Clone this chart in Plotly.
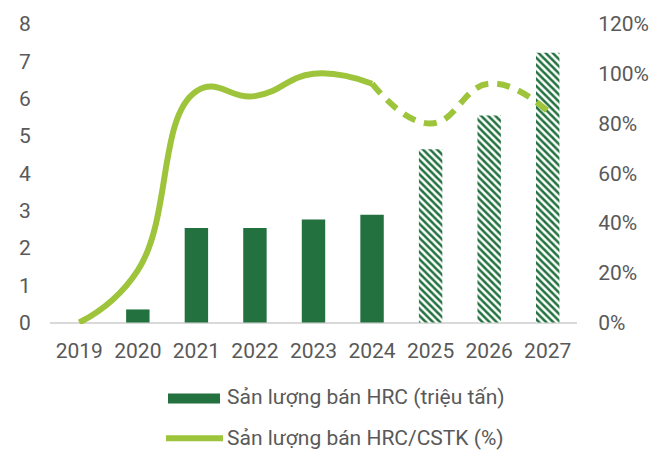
import plotly.graph_objects as go

# Annual HRC sales volume and sales/capacity ratio (2025-2027 are forecasts)
years = ["2019", "2020", "2021", "2022", "2023", "2024", "2025", "2026", "2027"]
sales_mt = [0.0, 0.35, 2.53, 2.53, 2.76, 2.89, 4.64, 5.55, 7.23]
sales_ratio = [0.0, 0.21, 0.93, 0.91, 1.00, 0.96, 0.80, 0.96, 0.85]
forecast = [False, False, False, False, False, False, True, True, True]

bar_name = "Sản lượng bán HRC (triệu tấn)"
line_name = "Sản lượng bán HRC/CSTK (%)"

DARK_GREEN = "#22713F"
LIGHT_GREEN = "#9DC43B"
TEXT_GRAY = "#595959"
FONT = "Roboto"
FS = 21

# actual years drawn solid, forecast years hatched
bar_shapes = ["\\" if f else "" for f in forecast]

# split the ratio line: solid through the last actual year, dashed after it
last_actual = max(i for i, f in enumerate(forecast) if not f)
solid_x = years[: last_actual + 1]
solid_y = sales_ratio[: last_actual + 1]
dash_x = years[last_actual:]
dash_y = sales_ratio[last_actual:]

fig = go.Figure()

fig.add_trace(go.Bar(
    x=years, y=sales_mt, name=bar_name,
    marker=dict(
        color=DARK_GREEN,
        line=dict(width=0),
        pattern=dict(shape=bar_shapes, fillmode="replace",
                     fgcolor=DARK_GREEN, bgcolor="white",
                     size=5, solidity=0.5),
    ),
    showlegend=False,
))

fig.add_trace(go.Scatter(
    x=solid_x, y=solid_y, yaxis="y2", mode="lines", name=line_name,
    line=dict(color=LIGHT_GREEN, width=6, shape="spline", smoothing=1.3),
    showlegend=False,
))
fig.add_trace(go.Scatter(
    x=dash_x, y=dash_y, yaxis="y2", mode="lines", name=line_name,
    line=dict(color=LIGHT_GREEN, width=6, shape="spline", smoothing=1.3,
              dash="13px,9px"),
    showlegend=False,
))

# legend drawn below the plot: swatch + label per series
legend_shapes = [
    dict(type="rect", xref="paper", yref="paper",
         x0=0.2239, x1=0.3226, y0=-0.265, y1=-0.232,
         fillcolor=DARK_GREEN, line=dict(width=0)),
    dict(type="line", xref="paper", yref="paper",
         x0=0.2201, x1=0.3283, y0=-0.381, y1=-0.381,
         line=dict(color=LIGHT_GREEN, width=6)),
]
legend_texts = [
    dict(text=bar_name, xref="paper", yref="paper", x=0.332, y=-0.244,
         xanchor="left", yanchor="middle", showarrow=False,
         font=dict(family=FONT, size=FS, color=TEXT_GRAY)),
    dict(text=line_name, xref="paper", yref="paper", x=0.332, y=-0.379,
         xanchor="left", yanchor="middle", showarrow=False,
         font=dict(family=FONT, size=FS, color=TEXT_GRAY)),
]

fig.update_layout(
    width=664, height=452,
    margin=dict(l=50, r=87, t=18, b=128),
    paper_bgcolor="white", plot_bgcolor="white",
    font=dict(family=FONT, size=FS, color=TEXT_GRAY),
    bargap=0.6,
    xaxis=dict(
        type="category", showgrid=False, showline=False, zeroline=False,
        ticks="outside", ticklen=8, tickcolor="rgba(0,0,0,0)",
        tickfont=dict(family=FONT, size=FS, color=TEXT_GRAY),
    ),
    yaxis=dict(
        range=[-0.04, 8], dtick=1, tick0=0, showgrid=False, showline=False,
        zeroline=True, zerolinecolor="#D9D9D9", zerolinewidth=2,
        ticks="outside", ticklen=14, tickcolor="rgba(0,0,0,0)",
        tickfont=dict(family=FONT, size=FS, color=TEXT_GRAY),
    ),
    yaxis2=dict(
        overlaying="y", side="right",
        range=[-0.006, 1.2], dtick=0.2, tick0=0, tickformat=".0%",
        showgrid=False, showline=False, zeroline=False,
        ticks="outside", ticklen=16, tickcolor="rgba(0,0,0,0)",
        tickfont=dict(family=FONT, size=FS, color=TEXT_GRAY),
    ),
    shapes=legend_shapes,
    annotations=legend_texts,
)

fig.write_html("out.html")
